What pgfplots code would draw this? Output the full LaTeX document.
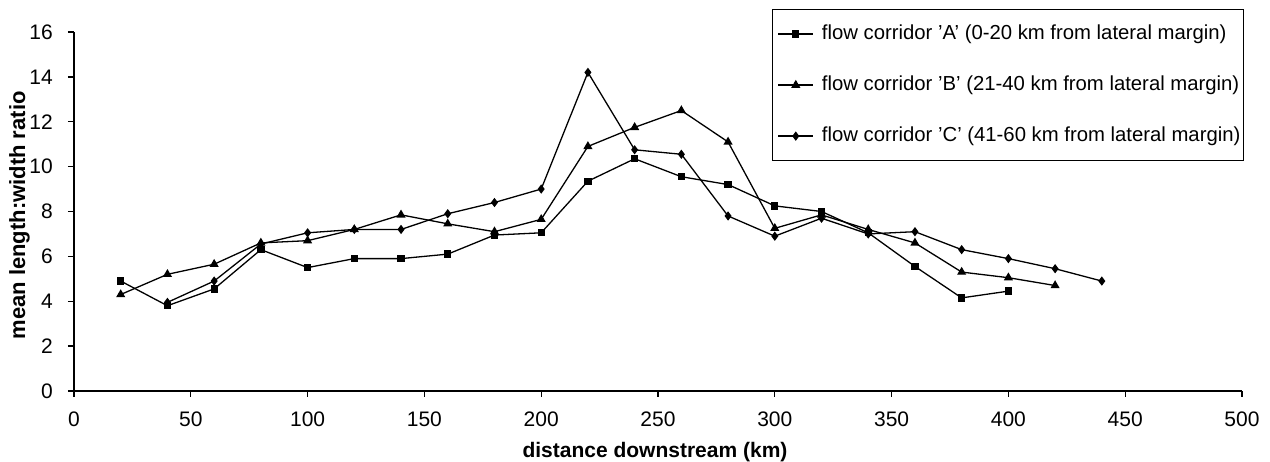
\documentclass[border=0pt]{standalone}
\usepackage{pgfplots}
\pgfplotsset{compat=1.18}
\usepackage{fontspec}
\setmainfont{Liberation Sans}
\begin{document}
\fontsize{21}{25}\selectfont
\begin{tikzpicture}
\useasboundingbox (-74pt,-71pt) rectangle (1196pt,391pt);
\begin{axis}[
  at={(0,0)}, anchor=south west,
  scale only axis, width=1168pt, height=359pt,
  xmin=0, xmax=500, ymin=0, ymax=16,
  xtick={0,50,...,500}, ytick={0,2,...,16},
  axis x line*=bottom, axis y line*=left,
  axis line style={line width=1.3pt, -},
  tick align=outside, major tick length=6pt,
  tick style={line width=1.3pt, black},
  /pgf/number format/assume math mode=true,
  ticklabel style={font=\fontsize{21}{25}\selectfont},
  yticklabel style={xshift=-8pt},
  xticklabel style={yshift=-8pt},
  xlabel={\textbf{distance downstream (km)}},
  ylabel={\textbf{mean length:width ratio}},
  xlabel style={font=\fontsize{21}{25}\selectfont, at={(axis description cs:0.5,0)}, anchor=south, yshift=-78pt, xshift=-3pt},
  ylabel style={font=\fontsize{22}{26}\selectfont, at={(axis description cs:0,0.5)}, anchor=north, yshift=72pt, xshift=-4pt},
  legend cell align=left,
  legend style={at={(axis description cs:0.5976,1.0641)}, anchor=north west,
    draw=black, line width=1.3pt, font=\fontsize{20.3}{24}\selectfont,
    nodes={inner sep=2pt, text height=15pt, text depth=4pt},
    row sep=28pt, inner xsep=1pt, inner ysep=13pt},
  legend image post style={line width=1.3pt},
  legend image code/.code={\path (-4pt,0pt); \draw[#1] (0pt,0pt) -- (35pt,0pt); \draw[#1, mark repeat=2, mark phase=2] plot coordinates {(0pt,0pt) (17.5pt,0pt) (35pt,0pt)}; \path (41pt,0pt);},
  every axis plot/.append style={line width=1.3pt, black},
]
\addplot[mark=square*, mark size=3pt, mark options={solid}] coordinates {
(20,4.9) (40,3.8) (60,4.55) (80,6.3) (100,5.5) (120,5.9) (140,5.9) (160,6.1)
(180,6.95) (200,7.05) (220,9.35) (240,10.35) (260,9.55) (280,9.2) (300,8.25)
(320,8.0) (340,7.05) (360,5.55) (380,4.15) (400,4.45)};
\addlegendentry{flow corridor 'A' (0-20 km from lateral margin)}
\addplot[mark=triangle*, mark size=4pt, mark options={solid}] coordinates {
(20,4.3) (40,5.2) (60,5.65) (80,6.6) (100,6.7) (120,7.2) (140,7.85) (160,7.45)
(180,7.1) (200,7.65) (220,10.9) (240,11.75) (260,12.5) (280,11.1) (300,7.25)
(320,7.85) (340,7.2) (360,6.6) (380,5.3) (400,5.05) (420,4.7)};
\addlegendentry{flow corridor 'B' (21-40 km from lateral margin)}
\addplot[mark=diamond*, mark size=3.6pt, mark options={solid}] coordinates {
(40,3.95) (60,4.9) (80,6.55) (100,7.05) (120,7.2) (140,7.2) (160,7.9)
(180,8.4) (200,9.0) (220,14.2) (240,10.75) (260,10.55) (280,7.8) (300,6.9)
(320,7.7) (340,7.0) (360,7.1) (380,6.3) (400,5.9) (420,5.45) (440,4.9)};
\addlegendentry{flow corridor 'C' (41-60 km from lateral margin)}
\end{axis}
\end{tikzpicture}
\end{document}
